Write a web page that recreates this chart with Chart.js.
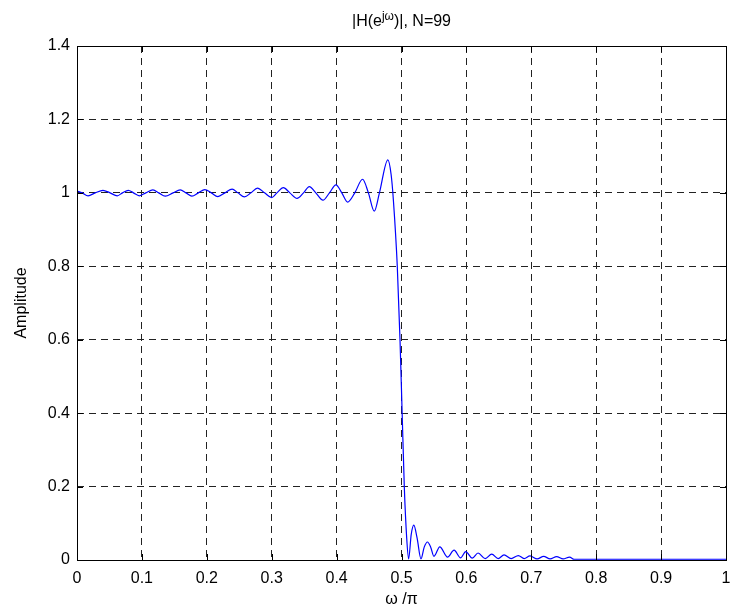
<!DOCTYPE html>
<html>
<head>
<meta charset="utf-8">
<script src="https://cdn.jsdelivr.net/npm/chart.js@4"></script>
<style>
  html, body { margin: 0; padding: 0; background: #fff; }
  #wrap { width: 730px; height: 614px; }
</style>
</head>
<body>
<div id="wrap"><canvas id="grafica"></canvas></div>
<script>
// frecuencia normalizada (omega/pi) y amplitud
const omega = [
  0.000, 0.008, 0.017, 0.028, 0.040, 0.051, 0.062, 0.070, 0.079, 0.087,
  0.096, 0.106, 0.117, 0.126, 0.136, 0.148, 0.159, 0.168, 0.177, 0.187,
  0.197, 0.207, 0.217, 0.228, 0.239, 0.248, 0.258, 0.268, 0.278, 0.289,
  0.300, 0.308, 0.318, 0.328, 0.339, 0.349, 0.358, 0.368, 0.379, 0.389,
  0.399, 0.408, 0.417, 0.428, 0.440, 0.449, 0.458, 0.466, 0.479, 0.484,
  0.4875, 0.4935, 0.4977, 0.501, 0.5043, 0.508, 0.511, 0.515, 0.519, 0.524,
  0.530, 0.535, 0.540, 0.545, 0.550, 0.559, 0.571, 0.581, 0.591, 0.599,
  0.609, 0.618, 0.629, 0.639, 0.649, 0.658, 0.669, 0.680, 0.689, 0.698,
  0.709, 0.719, 0.729, 0.739, 0.749, 0.759, 0.766, 1.000
];
const amplitud = [
  1.005, 1.000, 0.992, 1.000, 1.007, 1.000, 0.992, 1.000, 1.007, 1.000,
  0.992, 1.000, 1.008, 1.000, 0.991, 1.000, 1.008, 1.000, 0.991, 1.000,
  1.009, 1.000, 0.990, 1.000, 1.010, 1.000, 0.989, 1.000, 1.013, 1.000,
  0.987, 1.000, 1.014, 1.000, 0.985, 1.000, 1.017, 1.000, 0.980, 1.000,
  1.022, 1.000, 0.975, 1.000, 1.037, 1.000, 0.950, 1.000, 1.090, 1.050,
  0.980, 0.800, 0.600, 0.400, 0.200, 0.060, 0.003, 0.070, 0.095, 0.060,
  0.003, 0.035, 0.049, 0.035, 0.010, 0.036, 0.008, 0.027, 0.006, 0.023,
  0.005, 0.019, 0.004, 0.016, 0.004, 0.014, 0.004, 0.012, 0.004, 0.011,
  0.003, 0.010, 0.003, 0.009, 0.003, 0.008, 0.002, 0.002
];
const xTicks = [0, 0.1, 0.2, 0.3, 0.4, 0.5, 0.6, 0.7, 0.8, 0.9, 1];
const yTicks = [0, 0.2, 0.4, 0.6, 0.8, 1, 1.2, 1.4];

const fuente = "'Liberation Sans', Arial, sans-serif";

// titulo con superindice y caja estilo MATLAB
const marcoMatlab = {
  id: "marcoMatlab",
  afterDraw(chart) {
    const { ctx, chartArea: a, scales } = chart;
    ctx.save();
    ctx.strokeStyle = "#000";
    ctx.lineWidth = 1;
    // marcas hacia adentro
    ctx.beginPath();
    xTicks.forEach(v => {
      const x = Math.round(scales.x.getPixelForValue(v)) + 0.5;
      ctx.moveTo(x, a.bottom); ctx.lineTo(x, a.bottom - 6);
      ctx.moveTo(x, a.top); ctx.lineTo(x, a.top + 6);
    });
    yTicks.forEach(v => {
      const y = Math.round(scales.y.getPixelForValue(v)) + 0.5;
      ctx.moveTo(a.left, y); ctx.lineTo(a.left + 6, y);
      ctx.moveTo(a.right, y); ctx.lineTo(a.right - 6, y);
    });
    ctx.stroke();
    ctx.strokeRect(Math.round(a.left) + 0.5, Math.round(a.top) + 0.5,
      Math.round(a.right - a.left), Math.round(a.bottom - a.top));

    // titulo |H(e^jw)|, N=99
    const partes = [
      { t: "|H(e", f: "16px " + fuente, dy: 0 },
      { t: "j\u03c9", f: "12px " + fuente, dy: -6 },
      { t: ")|, N=99", f: "16px " + fuente, dy: 0 },
    ];
    let ancho = 0;
    partes.forEach(p => { ctx.font = p.f; ancho += ctx.measureText(p.t).width; });
    let x = (a.left + a.right) / 2 - ancho / 2;
    ctx.fillStyle = "#000";
    ctx.textBaseline = "alphabetic";
    partes.forEach(p => {
      ctx.font = p.f;
      ctx.fillText(p.t, x, 26 + p.dy);
      x += ctx.measureText(p.t).width;
    });
    ctx.restore();
  },
};

const rejilla = { color: "#222", lineWidth: 1, drawTicks: false };

new Chart(document.getElementById("grafica").getContext("2d"), {
  type: "line",
  data: {
    labels: omega,
    datasets: [
      {
        data: omega.map((w, i) => ({ x: w, y: amplitud[i] })),
        borderColor: "#0000ff",
        borderWidth: 1.2,
        pointRadius: 0,
        cubicInterpolationMode: "monotone",
        fill: false,
      },
    ],
  },
  options: {
    responsive: true,
    maintainAspectRatio: false,
    animation: false,
    events: [],
    layout: { padding: { left: 0, right: 4, top: 46, bottom: 0 } },
    plugins: { legend: { display: false }, tooltip: { enabled: false } },
    scales: {
      x: {
        type: "linear",
        min: 0,
        max: 1,
        afterBuildTicks: s => { s.ticks = xTicks.map(v => ({ value: v })); },
        afterFit: s => { s.height = 54; s.paddingLeft = 0; s.paddingRight = 0; },
        grid: rejilla,
        border: { display: false, dash: [7, 5] },
        ticks: {
          color: "#000",
          padding: 9,
          maxRotation: 0,
          font: { family: fuente, size: 16 },
          callback: v => String(v),
        },
        title: {
          display: true,
          text: "\u03c9 /\u03c0",
          color: "#000",
          padding: { bottom: 5 },
          font: { family: fuente, size: 16 },
        },
      },
      y: {
        type: "linear",
        min: 0,
        max: 1.4,
        afterBuildTicks: s => { s.ticks = yTicks.map(v => ({ value: v })); },
        afterFit: s => { s.width = 77; s.paddingTop = 0; s.paddingBottom = 0; },
        grid: rejilla,
        border: { display: false, dash: [7, 5] },
        ticks: {
          color: "#000",
          padding: 7,
          font: { family: fuente, size: 16 },
          callback: v => String(v),
        },
        title: {
          display: true,
          text: "Amplitude",
          color: "#000",
          padding: { top: 12 },
          font: { family: fuente, size: 16 },
        },
      },
    },
  },
  plugins: [marcoMatlab],
});
</script>
</body>
</html>
